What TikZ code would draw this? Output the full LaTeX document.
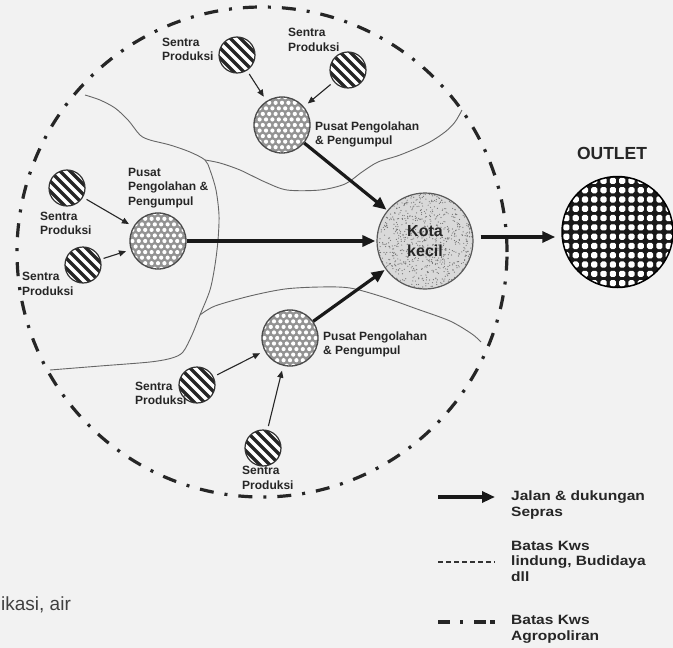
\documentclass[tikz,border=0pt]{standalone}
\usepackage{fontspec}
\setmainfont{Liberation Sans}
\newfontfamily\widefont[FakeStretch=1.15]{Liberation Sans}
\usetikzlibrary{arrows.meta,calc}

\tikzset{
  lbl/.style={font=\bfseries\fontsize{12}{14.5}\selectfont, align=left, inner sep=0pt, anchor=west, text=black!85},
  legtext/.style={font=\widefont\bfseries\fontsize{13.5}{15.5}\selectfont, align=left, inner sep=0pt, anchor=west, text=black!85},
  zone/.style={draw=black!60, line width=0.9pt},
  region/.style={circle, minimum size=490pt, inner sep=0pt, draw=black!85, line width=3.2pt,
    dash pattern=on 14pt off 11pt on 3pt off 11pt},
  sentra/.style={circle, minimum size=36pt, inner sep=0pt, draw=black!80, line width=1.2pt, fill=white,
    path picture={
      \coordinate (pc) at (path picture bounding box.center);
      \foreach \k in {-5,...,5}{
        \draw[line width=3.3pt, black!85] ($(pc)+(\k*5,-\k*5)+(-25,-25)$) -- ++(50,50);}
    }},
  pusat/.style={circle, minimum size=56pt, inner sep=0pt, draw=black!70, line width=1.3pt, fill=gray!85,
    path picture={
      \coordinate (pc) at (path picture bounding box.center);
      \foreach \j in {-5,...,5}{
        \foreach \i in {-5,...,5}{
          \fill[white] ($(pc)+({\i*6.4+mod(abs(\j),2)*3.2},{\j*5.55})$) circle (2.1);}}
    }},
  kota/.style={circle, minimum size=96pt, inner sep=0pt, draw=black!65, line width=1.2pt, fill=gray!30,
    align=center, text=black!85, font=\bfseries\fontsize{16}{20}\selectfont,
    path picture={
      \coordinate (pc) at (path picture bounding box.center);
      \foreach \n in {1,...,900}{
        \fill[black!55] ($(pc)+(rand*48,rand*48)$) circle (0.6);}
    }},
  outlet/.style={circle, minimum size=111pt, inner sep=0pt, draw=black, line width=1.5pt, fill=black!90,
    path picture={
      \coordinate (pc) at (path picture bounding box.center);
      \foreach \i in {-6,...,6}{
        \foreach \j in {-6,...,6}{
          \fill[white, rounded corners=1.6pt] ($(pc)+(\i*9.3,\j*9.3)+(1.55,1.55)$) rectangle ++(6.2,6.2);}}
    }},
  road/.style={-{Triangle[length=13pt,width=11pt]}, line width=3.2pt, black!90},
  feed/.style={-{Triangle[length=7pt,width=6pt]}, line width=1.1pt, black!85,
    shorten <=4pt, shorten >=5pt},
}

\begin{document}
\begin{tikzpicture}[x=1pt,y=-1pt]
\pgfmathsetseed{7}
\useasboundingbox (0,0) rectangle (673,648);
\fill[black!5] (0,0) rectangle (673,648);

% land-use boundaries inside the agropolitan area
\draw[zone] plot[smooth, tension=0.5] coordinates {(85,95) (100,100) (115,108) (128,120) (140,135) (150,140) (170,145) (190,152) (205,160) (210,170) (216,190) (219,215) (218,240) (215,265) (210,290) (200,315) (192,335) (183,352) (172,358) (150,362) (100,366) (50,370)};
\draw[zone] plot[smooth, tension=0.5] coordinates {(205,160) (220,163) (240,170) (265,182) (287,190) (320,190) (345,184) (362,172) (378,162) (400,155) (428,143) (445,132) (455,122) (462,110)};
\draw[zone] plot[smooth, tension=0.5] coordinates {(200,315) (215,306) (250,296) (285,289) (320,287) (350,288) (383,297) (417,309) (450,321) (472,334) (481,342)};

% agropolitan area boundary
\node[region] (kws) at (262,252) {};

% production centres
\node[sentra] (sTL) at (237,55) {};
\node[sentra] (sTR) at (348,70) {};
\node[sentra] (sL1) at (67,188) {};
\node[sentra] (sL2) at (83,265) {};
\node[sentra] (sB1) at (197,385) {};
\node[sentra] (sB2) at (263,448) {};

\node[lbl] (tTL) at (162,49.5) {Sentra\\Produksi};
\node[lbl] (tTR) at (288,40) {Sentra\\Produksi};
\node[lbl] (tL1) at (40,223.5) {Sentra\\Produksi};
\node[lbl] (tL2) at (22,284) {Sentra\\Produksi};
\node[lbl] (tB1) at (135,393.5) {Sentra\\Produksi};
\node[lbl] (tB2) at (242,478) {Sentra\\Produksi};

% processing and collection centres
\node[pusat] (pT) at (282,125) {};
\node[pusat] (pL) at (158,241) {};
\node[pusat] (pB) at (290,338) {};

\node[lbl] (tpT) at (315,134.5) {Pusat Pengolahan\\\& Pengumpul};
\node[lbl] (tpL) at (128,188) {Pusat\\Pengolahan \&\\Pengumpul};
\node[lbl] (tpB) at (323,344.5) {Pusat Pengolahan\\\& Pengumpul};

% small town and outlet
\node[kota] (kota) at (425,241) {Kota\\kecil};
\node[outlet] (outlet) at (617.5,232) {};
\node[font=\bfseries\fontsize{17.5}{20}\selectfont, text=black!85, inner sep=0pt] (tout) at (612,153) {OUTLET};

% flows from production centres
\draw[feed] (sTL) -- (pT);
\draw[feed] (sTR) -- (pT);
\draw[feed] (sL1) -- (pL);
\draw[feed, shorten <=3pt] (sL2) -- (pL);
\draw[feed] (sB1) -- (pB);
\draw[feed] (sB2) -- (pB);

% roads to the small town and on to the outlet
\draw[road, shorten >=1pt] (pT) -- (kota);
\draw[road, shorten >=1pt] (pL) -- (kota);
\draw[road, shorten >=1pt] (pB) -- (kota);
\coordinate (kx) at ($(kota.east)+(7,-4)$);
\coordinate (ox) at (kx -| outlet.west);
\draw[road, shorten >=6pt] (kx) -- (ox);

% legend
\coordinate (a1) at (438,497);
\coordinate (a2) at (495,497);
\draw[road] (a1) -- (a2);
\node[legtext] (g1) at (511,505) {Jalan \& dukungan\\Sepras};

\coordinate (b1) at (438,562);
\coordinate (b2) at (495,562);
\draw[line width=1.6pt, black!80, dash pattern=on 5pt off 3pt] (b1) -- (b2);
\node[legtext] (g2) at (511,561) {Batas Kws\\lindung, Budidaya\\dll};

\coordinate (c1) at (438,622);
\coordinate (c2) at (495,622);
\draw[line width=3.2pt, black!85, dash pattern=on 12pt off 10pt on 3pt off 11pt on 12pt off 4pt] (c1) -- (c2);
\node[legtext] (g3) at (511,629.5) {Batas Kws\\Agropoliran};

% text running in from the left edge
\node[anchor=west, inner sep=0pt, text=black!75, font=\fontsize{19}{22}\selectfont] (side) at (1,605) {ikasi, air};
\end{tikzpicture}
\end{document}
